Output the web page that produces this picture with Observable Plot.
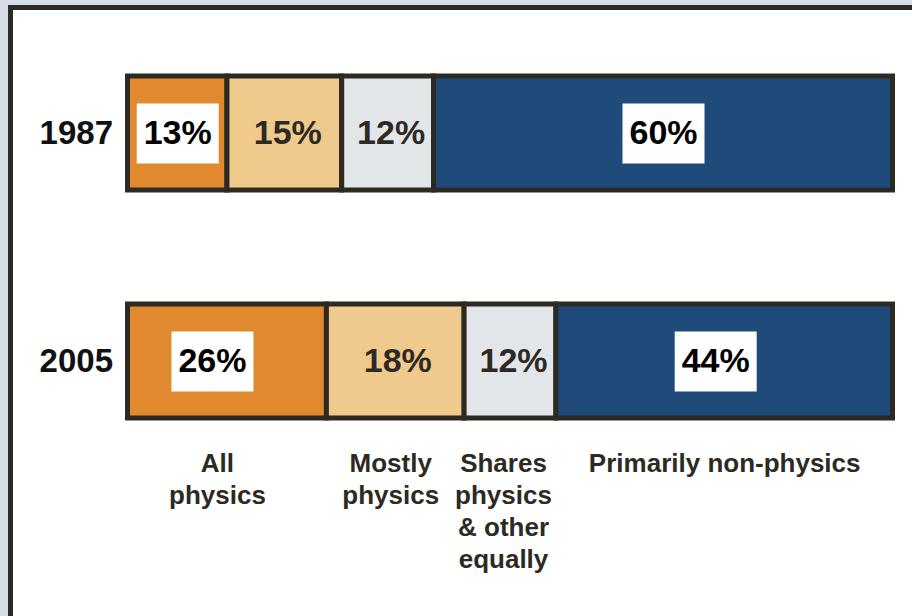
<!DOCTYPE html>
<html>
<head>
<meta charset="utf-8">
<script src="https://cdn.jsdelivr.net/npm/d3@7"></script>
<script src="https://cdn.jsdelivr.net/npm/@observablehq/plot@0.6"></script>
<style>
  html, body { margin: 0; padding: 0; width: 912px; height: 616px; overflow: hidden; background: #d6dde9; }
  #panel { position: absolute; left: 8px; top: 5px; width: 1000px; height: 1000px; border: 5px solid #2b2a25; background: #ffffff; }
  #chart { position: absolute; left: 0; top: 0; }
  #chart svg { font-family: "Liberation Sans", Arial, sans-serif; }
</style>
</head>
<body>
<div id="panel"></div>
<div id="chart"></div>
<script>
const years = ["1987", "2005"];
const categories = ["All physics", "Mostly physics", "Shares physics & other equally", "Primarily non-physics"];
const categoryLabels = ["All\nphysics", "Mostly\nphysics", "Shares\nphysics\n& other\nequally", "Primarily non-physics"];
const values1987 = [13, 15, 12, 60];
const values2005 = [26, 18, 12, 44];
const colors = ["#e0892e", "#f0ca8c", "#e3e6e8", "#1f4b7b"];
const boxedCategories = ["All physics", "Primarily non-physics"];

// small pixel nudges of labels (layout only, not data)
const width = 912, marginLeft = 127.5, marginRight = 19.5;
const pxPerUnit = (width - marginLeft - marginRight) / 100;
const valueNudge = {"2005|All physics": -15, "2005|Primarily non-physics": -9, "1987|Mostly physics": 3, "1987|Shares physics & other equally": 3, "2005|Mostly physics": 2, "2005|Shares physics & other equally": 3};
const labelNudge = {"All physics": -10, "Mostly physics": -5, "Shares physics & other equally": -7, "Primarily non-physics": 0};

const valuesByYear = {"1987": values1987, "2005": values2005};
const rows = [];
for (const year of years) {
  let start = 0;
  categories.forEach((c, i) => {
    const value = valuesByYear[year][i];
    rows.push({year, category: c, label: categoryLabels[i], value, mid: start + value / 2});
    start += value;
  });
}
const valueX = d => d.mid + (valueNudge[d.year + "|" + d.category] || 0) / pxPerUnit;
const labelX = d => d.mid + (labelNudge[d.category] || 0) / pxPerUnit;
const boxed = rows.filter(d => boxedCategories.includes(d.category));
const plain = rows.filter(d => !boxedCategories.includes(d.category));
const last = rows.filter(d => d.year === years[years.length - 1]);

const boxSymbol = {draw(context) { context.rect(-41, -30, 82, 60); }};
const ink = "#2d2a24";

const chart = Plot.plot({
  width,
  height: 616,
  marginLeft,
  marginRight,
  marginTop: 75,
  marginBottom: 198,
  style: {fontFamily: "Liberation Sans, Arial, sans-serif", background: "transparent", overflow: "visible"},
  x: {domain: [0, 100], axis: null},
  y: {domain: years, paddingInner: 0.5, paddingOuter: 0, label: null},
  color: {domain: categories, range: colors},
  marks: [
    Plot.axisY({tickSize: 0, tickPadding: 15, fontSize: 33, fontWeight: "bold", fill: "#111", label: null}),
    Plot.barX(rows, Plot.stackX({x: "value", y: "year", z: "category", fill: "category", stroke: ink, strokeWidth: 5})),
    Plot.dot(boxed, {x: valueX, y: "year", symbol: boxSymbol, fill: "white", stroke: "none"}),
    Plot.text(boxed, {x: valueX, y: "year", text: d => d.value + "%", fontSize: 34, fontWeight: "bold", fill: "#000"}),
    Plot.text(plain, {x: valueX, y: "year", text: d => d.value + "%", fontSize: 34, fontWeight: "bold", fill: ink}),
    Plot.text(last, {x: labelX, y: "year", text: "label", lineAnchor: "top", dy: 88, fontSize: 26, fontWeight: "bold", lineHeight: 1.23, fill: ink})
  ]
});
document.getElementById("chart").appendChild(chart);
</script>
</body>
</html>
